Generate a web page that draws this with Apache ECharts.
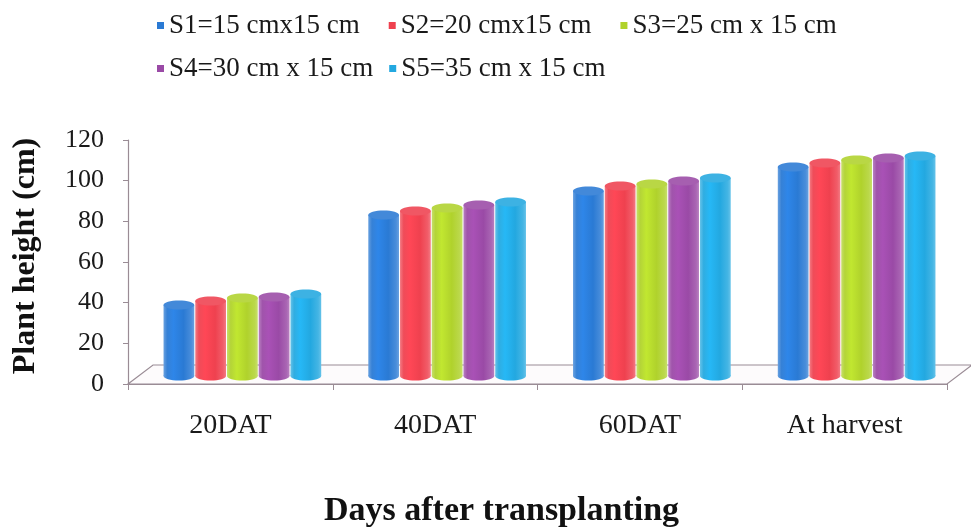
<!DOCTYPE html>
<html>
<head>
<meta charset="utf-8">
<title>Plant height</title>
<script src="https://cdn.jsdelivr.net/npm/echarts@6/dist/echarts.min.js"></script>
<style>
  html, body { margin: 0; padding: 0; background: #ffffff; }
  #chart { width: 971px; height: 527px; }
</style>
</head>
<body>
<div id="chart"></div>
<script>
// Plant height (cm) at each growth stage for five spacing treatments
const categories = ['20DAT', '40DAT', '60DAT', 'At harvest'];
const seriesNames = [
  'S1=15 cmx15 cm',
  'S2=20 cmx15 cm',
  'S3=25 cm x 15 cm',
  'S4=30 cm x 15 cm',
  'S5=35 cm x 15 cm'
];
const s1 = [34.9, 79.2, 91.0, 102.8];
const s2 = [36.9, 81.2, 93.5, 104.8];
const s3 = [38.4, 82.6, 94.4, 106.2];
const s4 = [38.9, 84.1, 95.9, 107.2];
const s5 = [40.3, 85.6, 97.4, 108.2];
const seriesValues = [s1, s2, s3, s4, s5];
const yMin = 0, yMax = 120, yStep = 20;

const colors = ['#2a7ad4', '#ef414f', '#b0d22c', '#9a4aa6', '#23a8e0'];

// depth offset of the pseudo-3D floor and the bars standing on it
const FLOOR_DX = 25, FLOOR_DY = 19;
const BAR_DX = 12, BAR_DY = 8;
const GROUP_FRACTION = 0.775;

const serif = '"Liberation Serif", "Times New Roman", serif';
const axisGray = '#9a8c95';

function cylinderFill(c) {
  const lift = echarts.color.lift;
  return new echarts.graphic.LinearGradient(0, 0, 1, 0, [
    { offset: 0, color: lift(c, 0.3) },
    { offset: 0.12, color: lift(c, 0.06) },
    { offset: 0.32, color: lift(c, -0.1) },
    { offset: 0.65, color: c },
    { offset: 0.9, color: lift(c, 0.15) },
    { offset: 1, color: lift(c, 0.3) }
  ]);
}

function makeCylinderRenderer(idx) {
  const base = colors[idx];
  return function (params, api) {
    const cat = api.value(0);
    const val = api.value(1);
    const topPt = api.coord([cat, val]);
    const basePt = api.coord([cat, 0]);
    const band = api.size([1, 0])[0];
    const group = band * GROUP_FRACTION;
    const slot = group / seriesValues.length;
    const w = slot - 1;
    const cx = topPt[0] - group / 2 + slot * (idx + 0.5) + BAR_DX;
    const yTop = topPt[1] - BAR_DY;
    const yBase = basePt[1] - BAR_DY;
    const rx = w / 2, ry = 4.5;
    const fill = cylinderFill(base);
    return {
      type: 'group',
      children: [
        { type: 'ellipse', shape: { cx: cx, cy: yBase, rx: rx, ry: ry }, style: { fill: fill } },
        { type: 'rect', shape: { x: cx - rx, y: yTop, width: w, height: yBase - yTop }, style: { fill: fill } },
        { type: 'ellipse', shape: { cx: cx, cy: yTop, rx: rx, ry: ry },
          style: { fill: echarts.color.lift(base, 0.12) } }
      ]
    };
  };
}

// floor of the 3D plot area, drawn behind the cylinders
function renderFloor(params) {
  const r = params.coordSys;
  const yb = r.y + r.height;
  return {
    type: 'polygon',
    shape: {
      points: [
        [r.x, yb],
        [r.x + FLOOR_DX, yb - FLOOR_DY],
        [r.x + r.width + FLOOR_DX, yb - FLOOR_DY],
        [r.x + r.width, yb]
      ]
    },
    style: { fill: '#fdfbfc', stroke: axisGray, lineWidth: 1.2 }
  };
}

const series = [{
  type: 'custom',
  name: 'floor',
  renderItem: renderFloor,
  data: [[0, 0]],
  silent: true,
  z: 1
}];
seriesValues.forEach(function (vals, i) {
  series.push({
    type: 'custom',
    name: seriesNames[i],
    renderItem: makeCylinderRenderer(i),
    itemStyle: { color: colors[i] },
    data: vals.map(function (v, k) { return [k, v]; }),
    z: 2 + i
  });
});

const legendText = { fontFamily: serif, fontSize: 27, color: '#1a1a1a' };

const option = {
  backgroundColor: '#ffffff',
  animation: false,
  legend: [
    {
      data: seriesNames.slice(0, 3),
      left: 152, top: 7,
      icon: 'rect', itemWidth: 7, itemHeight: 7, itemGap: 29,
      textStyle: legendText
    },
    {
      data: seriesNames.slice(3),
      left: 152, top: 50,
      icon: 'rect', itemWidth: 7, itemHeight: 7, itemGap: 16,
      textStyle: legendText
    }
  ],
  grid: {
    left: 128, right: 24, top: 140, bottom: 143,
    containLabel: false, outerBoundsMode: 'none'
  },
  xAxis: {
    type: 'category',
    data: categories,
    name: 'Days after transplanting',
    nameLocation: 'middle',
    nameGap: 110,
    nameTextStyle: {
      fontFamily: serif, fontSize: 34, fontWeight: 'bold', color: '#111',
      verticalAlign: 'top', padding: [0, 72, 0, 0]
    },
    axisLine: { lineStyle: { color: axisGray, width: 1.2 } },
    axisTick: { show: true, length: 6, lineStyle: { color: axisGray } },
    axisLabel: { fontFamily: serif, fontSize: 28, color: '#1a1a1a', margin: 28 },
    splitLine: { show: false }
  },
  yAxis: {
    type: 'value',
    min: yMin, max: yMax, interval: yStep,
    name: 'Plant height (cm)',
    nameLocation: 'middle',
    nameGap: 86,
    nameRotate: 90,
    nameTextStyle: {
      fontFamily: serif, fontSize: 32, fontWeight: 'bold', color: '#111',
      padding: [0, 0, 0, 12]
    },
    axisLine: { show: true, lineStyle: { color: axisGray, width: 1.2 } },
    axisTick: { show: true, length: 5, lineStyle: { color: axisGray } },
    axisLabel: { fontFamily: serif, fontSize: 26, color: '#1a1a1a', margin: 24 },
    splitLine: { show: false }
  },
  series: series
};

const chart = echarts.init(document.getElementById('chart'), null, { renderer: 'canvas' });
chart.setOption(option);
</script>
</body>
</html>
